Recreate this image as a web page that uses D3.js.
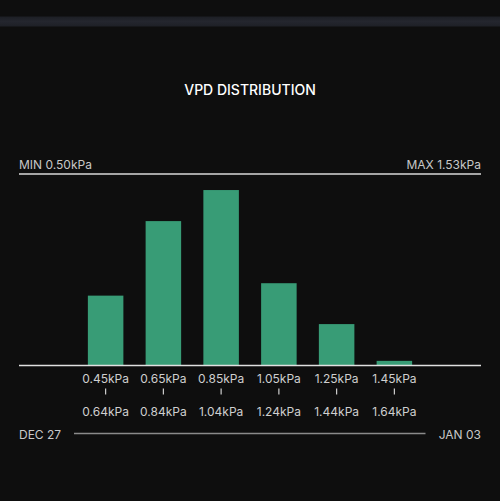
<!DOCTYPE html>
<html>
<head>
<meta charset="utf-8">
<script src="https://cdn.jsdelivr.net/npm/d3@7"></script>
<style>
  html, body { margin: 0; padding: 0; background: #0e0e0e; }
  svg { display: block; }
  text { font-family: Inter, "Noto Sans", sans-serif; }
</style>
</head>
<body>
<svg id="chart" width="500" height="501"></svg>
<script>
// ---- data ----
const binStarts = ["0.45kPa", "0.65kPa", "0.85kPa", "1.05kPa", "1.25kPa", "1.45kPa"];
const binEnds   = ["0.64kPa", "0.84kPa", "1.04kPa", "1.24kPa", "1.44kPa", "1.64kPa"];
const shares    = [13.5, 27.9, 33.9, 15.9, 8.0, 0.9];
const title = "VPD DISTRIBUTION";
const minLabel = "MIN 0.50kPa";
const maxLabel = "MAX 1.53kPa";
const startDate = "DEC 27";
const endDate = "JAN 03";

const W = 500, H = 501;
const left = 19, right = 481;
const topY = 174, baseY = 365.5;

const svg = d3.select("#chart");
svg.append("rect").attr("width", W).attr("height", H).attr("fill", "#0e0e0e");

// top band
const grad = svg.append("defs").append("linearGradient").attr("id", "band").attr("x1", 0).attr("x2", 0).attr("y1", 0).attr("y2", 1);
grad.append("stop").attr("offset", "0%").attr("stop-color", "#1c1e24");
grad.append("stop").attr("offset", "50%").attr("stop-color", "#24262e");
grad.append("stop").attr("offset", "100%").attr("stop-color", "#1e2026");
svg.append("rect").attr("x", 0).attr("y", 16.5).attr("width", W).attr("height", 10).attr("fill", "url(#band)");

svg.append("text").attr("x", 250).attr("y", 94.5).attr("text-anchor", "middle")
  .attr("fill", "#ffffff").attr("font-size", 14).attr("font-weight", 500)
  .text(title);

// scales
const step = (right - left) / 8;
const x = d3.scaleBand().domain(binStarts)
  .range([left + step, right - step])
  .paddingInner(0.385).paddingOuter(0.1925);
const y = d3.scaleLinear().domain([0, 37]).range([baseY, topY]);

// min / max line
svg.append("line").attr("x1", left).attr("x2", right).attr("y1", topY).attr("y2", topY)
  .attr("stroke", "#d8d8d8").attr("stroke-width", 1.6);
svg.append("text").attr("x", left).attr("y", 169).attr("fill", "#c8c8c8").attr("font-size", 12).text(minLabel);
svg.append("text").attr("x", right).attr("y", 169).attr("text-anchor", "end").attr("fill", "#c8c8c8").attr("font-size", 12).text(maxLabel);

// bars
svg.append("g").selectAll("rect").data(shares).join("rect")
  .attr("x", (d, i) => x(binStarts[i]))
  .attr("width", x.bandwidth())
  .attr("y", d => y(d))
  .attr("height", d => baseY - y(d))
  .attr("fill", "#389c76");

// baseline
svg.append("line").attr("x1", left).attr("x2", right).attr("y1", baseY).attr("y2", baseY)
  .attr("stroke", "#e0e0e0").attr("stroke-width", 1.6);

// bin labels
const lab = svg.append("g").selectAll("g").data(binStarts).join("g")
  .attr("transform", d => `translate(${x(d) + x.bandwidth() / 2},0)`);
lab.append("text").attr("y", 383).attr("text-anchor", "middle").attr("fill", "#cfcfcf").attr("font-size", 12).text(d => d);
lab.append("line").attr("x1", 0).attr("x2", 0).attr("y1", 388.5).attr("y2", 394.5).attr("stroke", "#cfcfcf").attr("stroke-width", 1.2);
lab.append("text").attr("y", 416).attr("text-anchor", "middle").attr("fill", "#cfcfcf").attr("font-size", 12).text((d, i) => binEnds[i]);

// date range
svg.append("text").attr("x", left).attr("y", 438.5).attr("fill", "#c8c8c8").attr("font-size", 12).text(startDate);
svg.append("text").attr("x", right).attr("y", 438.5).attr("text-anchor", "end").attr("fill", "#c8c8c8").attr("font-size", 12).text(endDate);
svg.append("line").attr("x1", 74).attr("x2", 425.5).attr("y1", 433.5).attr("y2", 433.5)
  .attr("stroke", "#8a8a8a").attr("stroke-width", 1.3);
</script>
</body>
</html>
